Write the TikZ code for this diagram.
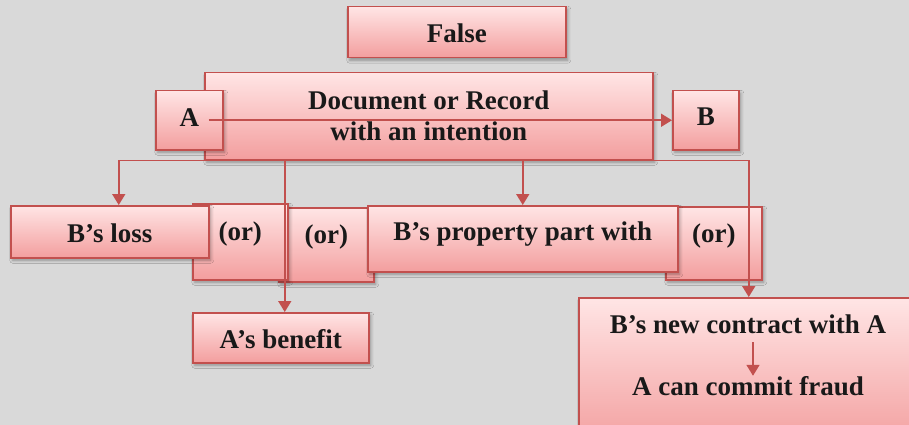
\documentclass[tikz,border=0pt]{standalone}
\usepackage{fontspec}
\setmainfont{Liberation Serif}
\usetikzlibrary{arrows.meta,shadows.blur}

\definecolor{pagebg}{RGB}{217,217,217}
\definecolor{edge}{RGB}{194,80,78}
\definecolor{filltop}{RGB}{255,229,229}
\definecolor{fillbot}{RGB}{243,158,158}

\tikzset{
  x=1pt, y=-1pt,
  box/.style={draw=edge, line width=1.5pt, top color=filltop, bottom color=fillbot,
    inner sep=0pt, anchor=north west, align=center,
    font=\bfseries\fontsize{27}{31}\selectfont, text=black!90,
    blur shadow={shadow xshift=2pt, shadow yshift=-2.5pt,
      shadow blur radius=3pt, shadow opacity=35}},
  label text/.style={inner sep=0pt, anchor=base,
    font=\bfseries\fontsize{27}{31}\selectfont, text=black!90},
  link/.style={draw=edge, line width=1.7pt, -{Triangle[width=13pt,length=11pt]}},
}

\begin{document}
\begin{tikzpicture}
  \useasboundingbox (0,0) rectangle (909,425);
  \clip (0,0) rectangle (909,425);
  \fill[pagebg] (0,0) rectangle (909,425);

  % top row
  \node[box, minimum width=218pt, text height=36pt, text depth=15pt] (false) at (347,6) {False};
  \node[box, minimum width=448pt, minimum height=87pt] (doc) at (204,72)
    {Document or Record\\with an intention};
  \node[box, minimum width=67pt, text height=36pt, text depth=23pt] (A) at (155,90) {A};
  \node[box, minimum width=66pt, text height=35pt, text depth=24pt] (B) at (672,90) {B};

  % middle row
  \node[box, minimum width=95pt, text height=36pt, text depth=38pt] (or2) at (278,207) {(or)};
  \node[box, minimum width=95pt, text height=37pt, text depth=39pt] (or1) at (192,203) {(or)};
  \node[box, minimum width=198pt, text height=37pt, text depth=15pt] (loss) at (10,205) {B’s loss};
  \node[box, minimum width=96pt, text height=36pt, text depth=37pt] (or3) at (665,206) {(or)};
  \node[box, minimum width=310pt, text height=35pt, text depth=31pt] (prop) at (367,205) {B’s property part with};

  % bottom row
  \node[box, minimum width=176pt, text height=36pt, text depth=14pt] (benefit) at (192,312) {A’s benefit};
  \node[box, minimum width=340pt, minimum height=150pt] (contract) at (578,297) {};
  \node[label text] (newc) at (748,333) {B’s new contract with A};
  \node[label text] (fraud) at (748,395) {A can commit fraud};

  % connectors
  \draw[link] ([xshift=-15pt]A.east) -- (B.west);
  \draw[link] (doc.south west) -| ([xshift=9pt]loss.north);
  \draw[link] ([xshift=4pt]benefit.north |- doc.south) -- ([xshift=4pt]benefit.north);
  \draw[link] (doc.south -| prop.north) -- (prop.north);
  \draw[link] (doc.south east) -| (contract.north);
  \draw[link] ([xshift=5pt,yshift=-9pt]newc.south) -- ([xshift=5pt]fraud.north);
\end{tikzpicture}
\end{document}
